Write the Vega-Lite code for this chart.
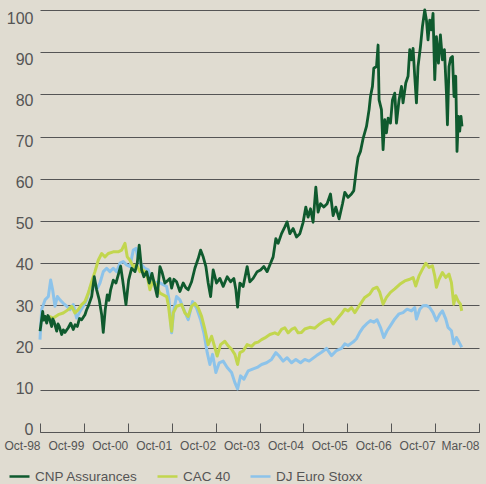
{
"$schema": "https://vega.github.io/schema/vega-lite/v6.json",
"width": 439, "height": 422, "autosize": "none",
"padding": {"left": 40, "top": 10, "right": 7, "bottom": 52},
"background": "#e0dcd1",
"config": {"view": {"stroke": null}, "font": "Liberation Sans"},
"datasets": {
"cnp": [
{"t":0,"v":23.9},{"t":0.016,"v":25},{"t":0.061,"v":28.6},{"t":0.085,"v":26.5},{"t":0.114,"v":27.4},{"t":0.153,"v":25.8},{"t":0.18,"v":27.6},{"t":0.212,"v":27},{"t":0.266,"v":25},{"t":0.29,"v":26.8},{"t":0.319,"v":26.2},{"t":0.38,"v":23.9},{"t":0.41,"v":25.6},{"t":0.439,"v":25},{"t":0.494,"v":23.1},{"t":0.53,"v":24.2},{"t":0.569,"v":23.6},{"t":0.644,"v":24.7},{"t":0.699,"v":25.8},{"t":0.758,"v":24.3},{"t":0.8,"v":25.4},{"t":0.849,"v":25},{"t":0.9,"v":26.9},{"t":0.949,"v":26.6},{"t":1.024,"v":27.8},{"t":1.06,"v":28.9},{"t":1.099,"v":29.8},{"t":1.177,"v":32.1},{"t":1.236,"v":36.8},{"t":1.291,"v":33.7},{"t":1.35,"v":31.3},{"t":1.405,"v":27.8},{"t":1.441,"v":23.6},{"t":1.486,"v":29},{"t":1.532,"v":32.5},{"t":1.57,"v":31.2},{"t":1.609,"v":33.7},{"t":1.669,"v":36},{"t":1.73,"v":35.3},{"t":1.792,"v":37.6},{"t":1.837,"v":39.3},{"t":1.883,"v":36},{"t":1.958,"v":30.2},{"t":2.019,"v":36},{"t":2.087,"v":38.8},{"t":2.163,"v":38},{"t":2.215,"v":40},{"t":2.26,"v":44.3},{"t":2.315,"v":38.4},{"t":2.367,"v":36.8},{"t":2.429,"v":38},{"t":2.488,"v":35.3},{"t":2.55,"v":37.6},{"t":2.618,"v":34.5},{"t":2.67,"v":32.1},{"t":2.732,"v":39.2},{"t":2.777,"v":38},{"t":2.845,"v":35.3},{"t":2.921,"v":36},{"t":2.959,"v":36.4},{"t":2.998,"v":34.1},{"t":3.05,"v":36.2},{"t":3.111,"v":35.6},{"t":3.187,"v":33.3},{"t":3.262,"v":35.3},{"t":3.32,"v":34.2},{"t":3.376,"v":33.7},{"t":3.453,"v":35.6},{"t":3.528,"v":38.8},{"t":3.604,"v":41.1},{"t":3.658,"v":43.1},{"t":3.717,"v":41.5},{"t":3.779,"v":39.2},{"t":3.831,"v":35.3},{"t":3.886,"v":32.1},{"t":3.945,"v":38.4},{"t":4.022,"v":35.3},{"t":4.097,"v":36.4},{"t":4.173,"v":34.5},{"t":4.264,"v":36.8},{"t":4.341,"v":35.6},{"t":4.416,"v":36.4},{"t":4.462,"v":33.7},{"t":4.501,"v":29.6},{"t":4.553,"v":35.3},{"t":4.628,"v":34.5},{"t":4.719,"v":39.2},{"t":4.78,"v":35.6},{"t":4.855,"v":36.4},{"t":4.947,"v":38},{"t":5.024,"v":38.4},{"t":5.099,"v":39.2},{"t":5.174,"v":38},{"t":5.252,"v":40},{"t":5.311,"v":41.5},{"t":5.372,"v":45.8},{"t":5.425,"v":44.7},{"t":5.502,"v":47},{"t":5.577,"v":48.6},{"t":5.629,"v":49.8},{"t":5.691,"v":47},{"t":5.766,"v":48.2},{"t":5.843,"v":46.2},{"t":5.919,"v":47},{"t":5.994,"v":49.7},{"t":6.055,"v":53.3},{"t":6.107,"v":50.9},{"t":6.162,"v":52.9},{"t":6.221,"v":49.7},{"t":6.283,"v":58},{"t":6.335,"v":52.1},{"t":6.39,"v":54.1},{"t":6.465,"v":53.3},{"t":6.54,"v":54.1},{"t":6.617,"v":56.4},{"t":6.677,"v":51.3},{"t":6.738,"v":53.3},{"t":6.813,"v":50.5},{"t":6.891,"v":54.1},{"t":6.943,"v":56.8},{"t":7.018,"v":55.6},{"t":7.095,"v":56.4},{"t":7.148,"v":57.2},{"t":7.209,"v":62.5},{"t":7.246,"v":65.1},{"t":7.3,"v":66.5},{"t":7.359,"v":69.5},{"t":7.437,"v":72.4},{"t":7.496,"v":76.4},{"t":7.528,"v":79.5},{"t":7.573,"v":81.9},{"t":7.603,"v":86.2},{"t":7.665,"v":86.6},{"t":7.701,"v":91.7},{"t":7.724,"v":78.7},{"t":7.778,"v":76.4},{"t":7.815,"v":66.9},{"t":7.853,"v":74},{"t":7.892,"v":70.9},{"t":7.929,"v":74.4},{"t":7.983,"v":73.2},{"t":8.029,"v":78.7},{"t":8.081,"v":80.3},{"t":8.12,"v":73.2},{"t":8.179,"v":78.7},{"t":8.234,"v":81.9},{"t":8.27,"v":78},{"t":8.332,"v":82.7},{"t":8.384,"v":84.3},{"t":8.423,"v":90.6},{"t":8.462,"v":88.2},{"t":8.498,"v":90.9},{"t":8.536,"v":84.3},{"t":8.575,"v":78},{"t":8.611,"v":86.6},{"t":8.666,"v":91.3},{"t":8.712,"v":96.1},{"t":8.764,"v":100},{"t":8.803,"v":97.6},{"t":8.839,"v":92.9},{"t":8.878,"v":97.6},{"t":8.916,"v":95.3},{"t":8.953,"v":99.2},{"t":8.992,"v":83.5},{"t":9.03,"v":93.7},{"t":9.076,"v":87.4},{"t":9.121,"v":94.1},{"t":9.167,"v":88.2},{"t":9.212,"v":90.6},{"t":9.258,"v":80.3},{"t":9.281,"v":72.8},{"t":9.317,"v":86.6},{"t":9.356,"v":88.6},{"t":9.395,"v":89},{"t":9.431,"v":79.5},{"t":9.47,"v":84.3},{"t":9.499,"v":66.5},{"t":9.531,"v":74.8},{"t":9.561,"v":71.3},{"t":9.59,"v":74.8},{"t":9.613,"v":72.4}
],
"cac": [
{"t":0.212,"v":27.4},{"t":0.303,"v":27},{"t":0.417,"v":27.8},{"t":0.53,"v":28.2},{"t":0.644,"v":29},{"t":0.722,"v":29.8},{"t":0.797,"v":28.2},{"t":0.872,"v":29},{"t":0.949,"v":30.2},{"t":1.024,"v":30.9},{"t":1.099,"v":32.9},{"t":1.177,"v":35.6},{"t":1.252,"v":38},{"t":1.327,"v":40.7},{"t":1.405,"v":42.3},{"t":1.48,"v":41.5},{"t":1.555,"v":42.3},{"t":1.669,"v":42.7},{"t":1.782,"v":42.7},{"t":1.86,"v":43.1},{"t":1.935,"v":44.7},{"t":1.987,"v":41.5},{"t":2.049,"v":40.7},{"t":2.124,"v":39.2},{"t":2.201,"v":39.6},{"t":2.276,"v":38},{"t":2.351,"v":38.4},{"t":2.429,"v":37.6},{"t":2.504,"v":33.7},{"t":2.579,"v":36},{"t":2.656,"v":34.5},{"t":2.732,"v":32.9},{"t":2.807,"v":32.5},{"t":2.884,"v":32.1},{"t":2.925,"v":30},{"t":2.971,"v":26},{"t":2.998,"v":23.9},{"t":3.034,"v":28.2},{"t":3.111,"v":29.8},{"t":3.225,"v":30.2},{"t":3.301,"v":28.2},{"t":3.376,"v":27.4},{"t":3.453,"v":29.8},{"t":3.528,"v":30.5},{"t":3.604,"v":29.4},{"t":3.681,"v":27.4},{"t":3.756,"v":24.3},{"t":3.831,"v":20.7},{"t":3.909,"v":22.7},{"t":3.984,"v":20},{"t":4.036,"v":18},{"t":4.113,"v":20.7},{"t":4.211,"v":21.5},{"t":4.286,"v":20.4},{"t":4.364,"v":19.6},{"t":4.439,"v":18.4},{"t":4.501,"v":16},{"t":4.553,"v":18.8},{"t":4.628,"v":19.2},{"t":4.719,"v":20.7},{"t":4.819,"v":20.3},{"t":4.894,"v":21.1},{"t":4.969,"v":21.3},{"t":5.047,"v":21.9},{"t":5.122,"v":22.3},{"t":5.236,"v":23.1},{"t":5.349,"v":23.5},{"t":5.425,"v":23.1},{"t":5.502,"v":24.3},{"t":5.577,"v":24.7},{"t":5.652,"v":23.5},{"t":5.73,"v":24.3},{"t":5.805,"v":24.7},{"t":5.88,"v":23.5},{"t":5.957,"v":23.6},{"t":6.032,"v":24.4},{"t":6.146,"v":24.8},{"t":6.26,"v":24.6},{"t":6.374,"v":25.6},{"t":6.488,"v":26.4},{"t":6.601,"v":26.8},{"t":6.677,"v":25.6},{"t":6.768,"v":26.8},{"t":6.868,"v":28},{"t":6.943,"v":29.1},{"t":7.018,"v":28.7},{"t":7.095,"v":29.5},{"t":7.171,"v":28.3},{"t":7.246,"v":29.5},{"t":7.323,"v":30.7},{"t":7.398,"v":31.9},{"t":7.512,"v":32.7},{"t":7.587,"v":33.9},{"t":7.678,"v":34.3},{"t":7.74,"v":33.1},{"t":7.815,"v":30.3},{"t":7.892,"v":31.9},{"t":7.983,"v":33.1},{"t":8.081,"v":33.9},{"t":8.195,"v":35},{"t":8.309,"v":35.8},{"t":8.423,"v":36.2},{"t":8.498,"v":36.6},{"t":8.559,"v":34.6},{"t":8.634,"v":37},{"t":8.712,"v":38.6},{"t":8.787,"v":40},{"t":8.862,"v":39},{"t":8.939,"v":39.4},{"t":8.992,"v":37},{"t":9.03,"v":34.3},{"t":9.089,"v":36.2},{"t":9.167,"v":37.8},{"t":9.242,"v":36.6},{"t":9.317,"v":37.4},{"t":9.372,"v":35.4},{"t":9.424,"v":30.3},{"t":9.47,"v":32.3},{"t":9.522,"v":31.1},{"t":9.577,"v":30.3},{"t":9.606,"v":28.7}
],
"dj": [
{"t":0,"v":21.9},{"t":0.038,"v":29},{"t":0.114,"v":31.3},{"t":0.19,"v":32.1},{"t":0.243,"v":36},{"t":0.288,"v":33.7},{"t":0.341,"v":29.8},{"t":0.395,"v":32.1},{"t":0.455,"v":31.3},{"t":0.531,"v":30.5},{"t":0.607,"v":29.8},{"t":0.683,"v":29},{"t":0.759,"v":30.2},{"t":0.835,"v":27},{"t":0.911,"v":28.6},{"t":0.987,"v":29.8},{"t":1.062,"v":31.3},{"t":1.138,"v":34.1},{"t":1.214,"v":36},{"t":1.29,"v":33.7},{"t":1.366,"v":35.3},{"t":1.442,"v":38},{"t":1.518,"v":38.8},{"t":1.593,"v":38},{"t":1.669,"v":38.8},{"t":1.745,"v":38},{"t":1.821,"v":40},{"t":1.897,"v":40.4},{"t":1.973,"v":39.6},{"t":2.049,"v":39.2},{"t":2.125,"v":43.1},{"t":2.185,"v":43.5},{"t":2.238,"v":41.1},{"t":2.314,"v":39.6},{"t":2.39,"v":38.8},{"t":2.466,"v":38.4},{"t":2.542,"v":36},{"t":2.618,"v":35.3},{"t":2.694,"v":35.6},{"t":2.807,"v":34.9},{"t":2.884,"v":34.5},{"t":2.937,"v":31.5},{"t":2.998,"v":23.5},{"t":3.05,"v":29},{"t":3.111,"v":32.1},{"t":3.187,"v":31.3},{"t":3.278,"v":29},{"t":3.376,"v":26.6},{"t":3.476,"v":30.9},{"t":3.567,"v":29.4},{"t":3.658,"v":26.6},{"t":3.733,"v":23.5},{"t":3.809,"v":18.8},{"t":3.87,"v":16},{"t":3.931,"v":18.4},{"t":4.006,"v":14.1},{"t":4.082,"v":16.4},{"t":4.173,"v":16.8},{"t":4.264,"v":15.3},{"t":4.364,"v":14.1},{"t":4.439,"v":11.7},{"t":4.501,"v":10.2},{"t":4.569,"v":13.3},{"t":4.644,"v":12.5},{"t":4.742,"v":14.5},{"t":4.842,"v":14.9},{"t":4.947,"v":15.3},{"t":5.047,"v":16},{"t":5.161,"v":16.4},{"t":5.274,"v":17.2},{"t":5.372,"v":18.8},{"t":5.448,"v":18},{"t":5.538,"v":16.8},{"t":5.629,"v":17.6},{"t":5.73,"v":16.4},{"t":5.828,"v":17.2},{"t":5.935,"v":16.4},{"t":6.032,"v":17.2},{"t":6.13,"v":16.8},{"t":6.299,"v":18.1},{"t":6.413,"v":18.9},{"t":6.526,"v":19.8},{"t":6.64,"v":18.1},{"t":6.754,"v":19.3},{"t":6.868,"v":19.8},{"t":6.943,"v":20.9},{"t":7.018,"v":20.5},{"t":7.132,"v":21.3},{"t":7.209,"v":22.1},{"t":7.284,"v":23.6},{"t":7.36,"v":24.8},{"t":7.437,"v":25.6},{"t":7.528,"v":26.4},{"t":7.603,"v":26},{"t":7.678,"v":26.6},{"t":7.755,"v":24.8},{"t":7.831,"v":22.4},{"t":7.906,"v":24},{"t":7.983,"v":25.2},{"t":8.081,"v":26.8},{"t":8.179,"v":28},{"t":8.27,"v":28.3},{"t":8.361,"v":29.1},{"t":8.461,"v":28.7},{"t":8.536,"v":29.5},{"t":8.575,"v":26.8},{"t":8.65,"v":29.1},{"t":8.725,"v":29.9},{"t":8.803,"v":30},{"t":8.878,"v":29.5},{"t":8.953,"v":28.3},{"t":9.03,"v":26.4},{"t":9.105,"v":27.9},{"t":9.167,"v":28.7},{"t":9.242,"v":26.8},{"t":9.294,"v":24.8},{"t":9.372,"v":24},{"t":9.424,"v":20.9},{"t":9.485,"v":22.4},{"t":9.545,"v":21.3},{"t":9.606,"v":20.1}
]
},
"encoding": {
"x": {"field": "t", "type": "quantitative", "scale": {"domain": [0, 10], "nice": false},
 "axis": {"title": null, "values": [0,1,2,3,4,5,6,7,8,9,10], "grid": false,
  "labelExpr": "['Oct-98','Oct-99','Oct-00','Oct-01','Oct-02','Oct-03','Oct-04','Oct-05','Oct-06','Oct-07','Mar-08'][datum.value]",
  "domainColor": "#555555", "tickColor": "#555555", "tickSize": -9, "labelPadding": 17,
  "labelAlign": "right", "labelDx": 3, "labelFontSize": 12, "labelColor": "#555555",
  "labelFlush": false, "labelOverlap": false, "labelBound": false}},
"y": {"field": "v", "type": "quantitative", "scale": {"domain": [0, 100], "nice": false},
 "axis": {"title": null, "values": [0,10,20,30,40,50,60,70,80,90,100], "grid": true, "gridColor": "#555555", "gridWidth": 1,
  "domain": false, "ticks": false, "labelFontSize": 16, "labelColor": "#555555", "labelPadding": 7,
  "labelBaseline": "middle", "labelOffset": {"expr": "-2.5 + 0.107 * datum.value"}}}
},
"layer": [
{"data": {"name": "dj"}, "mark": {"type": "line", "strokeWidth": 3, "strokeJoin": "round"},
 "encoding": {"color": {"datum": "DJ Euro Stoxx", "type": "nominal",
  "scale": {"domain": ["CNP Assurances", "CAC 40", "DJ Euro Stoxx"], "range": ["#0f5a2e", "#c2d64e", "#8cc3ea"]},
  "legend": {"title": null, "orient": "none", "legendX": -32, "legendY": 455, "direction": "horizontal",
   "symbolType": "stroke", "symbolSize": 400, "symbolStrokeWidth": 2.5, "labelFontSize": 13.5, "labelColor": "#555555",
   "labelOffset": 4, "columnPadding": 14, "labelLimit": 0}}}},
{"data": {"name": "cac"}, "mark": {"type": "line", "strokeWidth": 3, "strokeJoin": "round"},
 "encoding": {"color": {"datum": "CAC 40", "type": "nominal"}}},
{"data": {"name": "cnp"}, "mark": {"type": "line", "strokeWidth": 2.8, "strokeJoin": "round"},
 "encoding": {"color": {"datum": "CNP Assurances", "type": "nominal"}}}
]
}
